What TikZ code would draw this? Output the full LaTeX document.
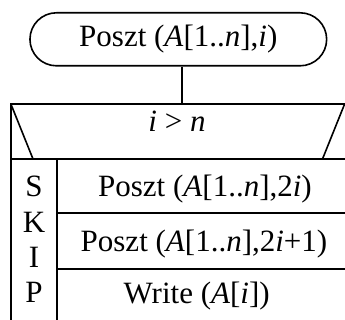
\documentclass[tikz,border=0pt]{standalone}
\usepackage{fontspec}
\setmainfont{Liberation Serif}
\begin{document}
\begin{tikzpicture}[x=1pt,y=-1pt,line width=1.6pt,
  txt/.style={inner sep=0pt,anchor=base,font=\fontsize{31}{35.3}\selectfont},
  term/.style={draw,rounded corners=26.5pt,minimum width=296.7pt,minimum height=53pt,
    inner sep=0pt,font=\fontsize{31}{35.3}\selectfont}]
\clip (0,0) rectangle (345,320);
% start terminator
\node[term] (start) at (178.3,39.3) {Poszt (\textit{A}[1..\textit{n}],\textit{i})};
% structogram frame
\coordinate (tl) at (11,104.3);
\coordinate (br) at (347.5,322);
\coordinate (jt) at (181.7,104.3);
\draw (start.south -| jt) -- (jt);
\draw (tl) rectangle (br);
% condition row
\draw (11,159) -- (347.5,159);
\draw (tl) -- (33,159);
\draw (344.5,104.3) -- (322.5,159);
\node[txt] (cond) at (177,131.5) {\textit{i} > \textit{n}};
% skip column and branch rows
\draw (57,159) -- (57,322);
\draw (57,213) -- (347.5,213);
\draw (57,269) -- (347.5,269);
\node[inner sep=0pt,align=center,font=\fontsize{31}{35.3}\selectfont] (skip) at (34,239.5) {S\\K\\I\\P};
\node[txt] (r1) at (205,197) {Poszt (\textit{A}[1..\textit{n}],2\textit{i})};
\node[txt] (r2) at (204,251.7) {Poszt (\textit{A}[1..\textit{n}],2\textit{i}+1)};
\node[txt] (r3) at (196.7,303) {Write (\textit{A}[\textit{i}])};
\end{tikzpicture}
\end{document}
